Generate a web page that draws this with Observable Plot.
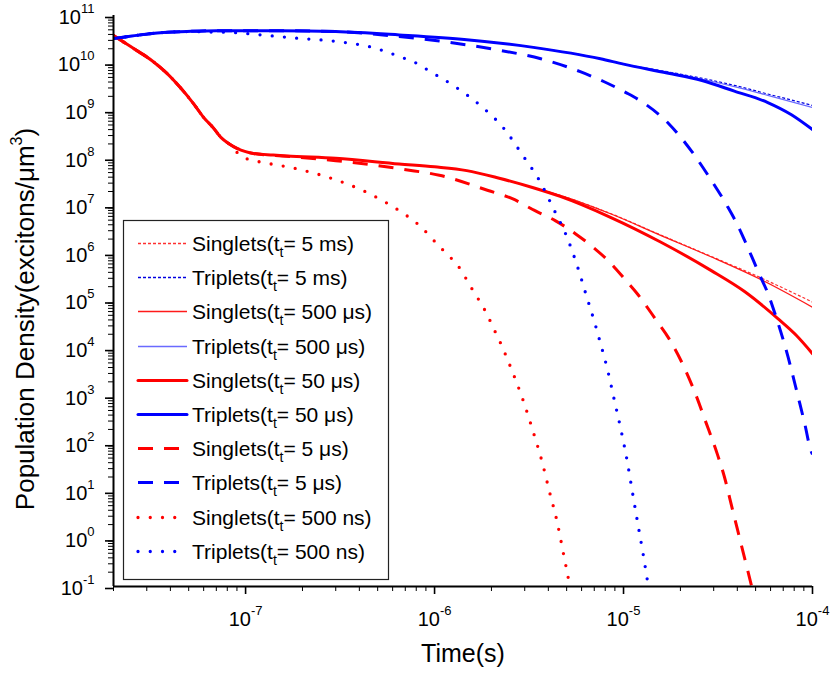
<!DOCTYPE html>
<html>
<head>
<meta charset="utf-8">
<script src="https://cdn.jsdelivr.net/npm/d3@7"></script>
<script src="https://cdn.jsdelivr.net/npm/@observablehq/plot@0.6"></script>
<style>
  body { margin: 0; background: #fff; }
  #chart { width: 833px; height: 681px; font-family: "Liberation Sans", Arial, sans-serif; }
</style>
</head>
<body>
<div id="chart"></div>
<script>
// ---------- data (time in s, density in excitons/µm³) ----------
// shared early part of all singlet curves
const tSingletEarly = [2e-8, 2.5e-8, 3.2e-8, 3.8e-8, 4.5e-8, 5.3e-8, 6.0e-8, 6.8e-8, 7.4e-8, 8.2e-8];
const vSingletEarly = [3.8e10, 2.14e10, 1.12e10, 6.3e9, 3.1e9, 1.41e9, 7.2e8, 4.2e8, 2.75e8, 2.0e8];
// shared early part of all triplet curves
const tTripletEarly = [2e-8, 2.5e-8, 3.2e-8, 4.9e-8];
const vTripletEarly = [3.3e10, 3.7e10, 4.2e10, 4.6e10];

// Singlets, t_t = 5 ms (thin dashed)
const tS5ms = [9.0e-8, 1.0e-7, 1.1e-7, 1.4e-7, 1.65e-7, 3e-7, 6.5e-7, 1e-6, 1.48e-6, 2.2e-6, 3.33e-6, 4.62e-6, 8.53e-6, 1.57e-5, 2.9e-5, 5.4e-5, 1e-4];
const vS5ms = [1.62e8, 1.38e8, 1.26e8, 1.17e8, 1.12e8, 1.0e8, 7.6e7, 6.6e7, 5.5e7, 3.8e7, 2.4e7, 1.66e7, 6.9e6, 2.45e6, 8.7e5, 3.0e5, 9.5e4];
// Singlets, t_t = 500 µs (thin solid)
const tS500us = [9.0e-8, 1.0e-7, 1.1e-7, 1.4e-7, 1.65e-7, 3e-7, 6.5e-7, 1e-6, 1.48e-6, 2.2e-6, 3.33e-6, 4.62e-6, 8.53e-6, 1.57e-5, 2.9e-5, 5.4e-5, 1e-4];
const vS500us = [1.62e8, 1.38e8, 1.26e8, 1.17e8, 1.12e8, 1.0e8, 7.6e7, 6.6e7, 5.5e7, 3.8e7, 2.4e7, 1.66e7, 6.8e6, 2.4e6, 8.5e5, 2.75e5, 7.4e4];
// Singlets, t_t = 50 µs (thick solid)
const tS50us = [9.0e-8, 1.0e-7, 1.1e-7, 1.4e-7, 1.65e-7, 3e-7, 6.5e-7, 1e-6, 1.48e-6, 2.2e-6, 3.33e-6, 4.62e-6, 8.53e-6, 1.57e-5, 2.9e-5, 4.37e-5, 6.58e-5, 8.2e-5, 1e-4];
const vS50us = [1.62e8, 1.38e8, 1.26e8, 1.17e8, 1.12e8, 1.0e8, 7.6e7, 6.6e7, 5.5e7, 3.8e7, 2.4e7, 1.58e7, 5.75e6, 1.74e6, 4.4e5, 1.58e5, 4.2e4, 1.9e4, 7.8e3];
// Singlets, t_t = 5 µs (thick dashed)
const tS5us = [9.0e-8, 1.0e-7, 1.1e-7, 1.65e-7, 3e-7, 7.06e-7, 1.06e-6, 1.92e-6, 2.58e-6, 3.4e-6, 4.35e-6, 5.56e-6, 6.9e-6, 8.53e-6, 1.01e-5, 1.2e-5, 1.48e-5, 1.74e-5, 2.09e-5, 2.44e-5, 2.7e-5, 3.13e-5, 3.42e-5, 3.78e-5, 4.1e-5, 4.55e-5, 4.8e-5];
const vS5us = [1.62e8, 1.38e8, 1.26e8, 1.1e8, 8.9e7, 5.75e7, 4.4e7, 2.1e7, 1.41e7, 7.9e6, 4.9e6, 2.6e6, 1.35e6, 6.3e5, 2.95e5, 1.32e5, 4.1e4, 1.62e4, 4.1e3, 955, 316, 62, 20, 4.0, 1.1, 0.21, 0.089];
// Singlets, t_t = 500 ns (dotted)
const tS500ns = [9.5e-8, 1.17e-7, 1.41e-7, 1.7e-7, 2.04e-7, 2.9e-7, 4.4e-7, 6.5e-7, 8.3e-7, 1.07e-6, 1.23e-6, 1.39e-6, 1.53e-6, 1.7e-6, 1.88e-6, 2.04e-6, 2.22e-6, 2.58e-6, 2.95e-6, 3.31e-6, 3.7e-6, 4.06e-6, 4.44e-6, 4.81e-6, 5.18e-6, 5.3e-6];
const vS500ns = [1.1e8, 8.5e7, 7.4e7, 6.5e7, 5.5e7, 3.7e7, 1.9e7, 7.9e6, 3.9e6, 1.35e6, 7.8e5, 4.3e5, 2.2e5, 1.12e5, 5.6e4, 2.8e4, 1.38e4, 3.3e3, 794, 190, 43, 9.7, 2.4, 0.49, 0.107, 0.063];

// Triplets, t_t = 5 ms (thin dashed)
const tT5ms = [7e-8, 1.5e-7, 3e-7, 6.5e-7, 1.48e-6, 3.33e-6, 7.55e-6, 1e-5, 1.7e-5, 3.86e-5, 5.8e-5, 1e-4];
const vT5ms = [4.8e10, 4.8e10, 4.6e10, 3.9e10, 3.1e10, 2.14e10, 1.23e10, 9.5e9, 6.6e9, 3.4e9, 2.24e9, 1.29e9];
// Triplets, t_t = 500 µs (thin solid)
const tT500us = [7e-8, 1.5e-7, 3e-7, 6.5e-7, 1.48e-6, 3.33e-6, 7.55e-6, 1e-5, 1.7e-5, 3.86e-5, 5.8e-5, 1e-4];
const vT500us = [4.8e10, 4.8e10, 4.6e10, 3.9e10, 3.1e10, 2.14e10, 1.23e10, 9.5e9, 6.5e9, 3.2e9, 2.1e9, 1.17e9];
// Triplets, t_t = 50 µs (thick solid)
const tT50us = [7e-8, 1.5e-7, 3e-7, 6.5e-7, 1.48e-6, 3.33e-6, 7.55e-6, 1e-5, 1.7e-5, 2.6e-5, 3.86e-5, 5.8e-5, 7.7e-5, 1e-4];
const vT50us = [4.8e10, 4.8e10, 4.6e10, 3.9e10, 3.1e10, 2.14e10, 1.23e10, 9.5e9, 6.2e9, 4.3e9, 2.57e9, 1.48e9, 8.3e8, 4.0e8];
// Triplets, t_t = 5 µs (thick dashed)
const tT5us = [7e-8, 1.5e-7, 3e-7, 6.5e-7, 1.06e-6, 2.06e-6, 3.65e-6, 5.9e-6, 7.85e-6, 1.03e-5, 1.26e-5, 1.74e-5, 2.29e-5, 2.88e-5, 3.56e-5, 3.98e-5, 4.4e-5, 5.18e-5, 5.86e-5, 6.3e-5, 7.43e-5, 8.4e-5, 9.1e-5, 9.8e-5, 1e-4];
const vT5us = [4.8e10, 4.8e10, 4.6e10, 3.6e10, 2.9e10, 1.95e10, 1.23e10, 6.6e9, 4.1e9, 2.4e9, 1.51e9, 5.25e8, 1.41e8, 3.7e7, 9.5e6, 4.2e6, 1.78e6, 4.0e5, 1.32e5, 5.75e4, 6.6e3, 955, 263, 72, 60];
// Triplets, t_t = 500 ns (dotted)
const tT500ns = [6.5e-8, 8.4e-8, 1.22e-7, 1.76e-7, 3.13e-7, 4.68e-7, 6.5e-7, 8.0e-7, 9.4e-7, 1.3e-6, 1.77e-6, 2.33e-6, 2.92e-6, 3.62e-6, 4.26e-6, 5.02e-6, 5.68e-6, 6.35e-6, 7.1e-6, 7.48e-6, 8.26e-6, 8.96e-6, 9.72e-6, 1.047e-5, 1.117e-5, 1.19e-5, 1.27e-5, 1.35e-5, 1.38e-5];
const vT500ns = [4.5e10, 4.4e10, 3.9e10, 3.4e10, 2.8e10, 2.14e10, 1.38e10, 1.0e10, 6.8e9, 3.1e9, 1.23e9, 4.2e8, 1.17e8, 3.2e7, 8.7e6, 2.2e6, 5.6e5, 1.32e5, 3.1e4, 1.48e4, 3.4e3, 794, 186, 42, 9.1, 2.1, 0.48, 0.107, 0.063];

// legend / series descriptors
const seriesKind   = ["Singlets", "Triplets", "Singlets", "Triplets", "Singlets", "Triplets", "Singlets", "Triplets", "Singlets", "Triplets"];
const seriesTt     = ["5 ms", "5 ms", "500 μs", "500 μs", "50 μs", "50 μs", "5 μs", "5 μs", "500 ns", "500 ns"];
const seriesColor  = ["#ff3030", "#0000e0", "#ff1a1a", "#6a6aff", "#ff0000", "#0000ff", "#ff0000", "#0000ff", "#ff0000", "#0000ff"];
const seriesWidth  = [1.2, 1.2, 1.2, 1.2, 3, 3, 3, 3, 3.3, 3.3];
const legendWidth  = [1.5, 1.5, 1.5, 1.5, 3, 3, 3, 3, 3.3, 3.3];
const seriesDash   = ["3 2", "3 2", null, null, null, null, "15 11", "15 11", "0 12.25", "0 12.25"];
const seriesCap    = ["butt", "butt", "butt", "butt", "round", "round", "butt", "butt", "round", "round"];

// axis ticks
const xMajor = [1e-7, 1e-6, 1e-5, 1e-4];
const yMajor = [1e-1, 1e0, 1e1, 1e2, 1e3, 1e4, 1e5, 1e6, 1e7, 1e8, 1e9, 1e10, 1e11];
const minorMultipliers = [2, 3, 4, 5, 6, 7, 8, 9];

// ---------- build table ----------
const seriesTimes = [
  [...tSingletEarly, ...tS5ms], [...tTripletEarly, ...tT5ms],
  [...tSingletEarly, ...tS500us], [...tTripletEarly, ...tT500us],
  [...tSingletEarly, ...tS50us], [...tTripletEarly, ...tT50us],
  [...tSingletEarly, ...tS5us], [...tTripletEarly, ...tT5us],
  [...tSingletEarly, ...tS500ns], [...tTripletEarly, ...tT500ns]
];
const seriesValues = [
  [...vSingletEarly, ...vS5ms], [...vTripletEarly, ...vT5ms],
  [...vSingletEarly, ...vS500us], [...vTripletEarly, ...vT500us],
  [...vSingletEarly, ...vS50us], [...vTripletEarly, ...vT50us],
  [...vSingletEarly, ...vS5us], [...vTripletEarly, ...vT5us],
  [...vSingletEarly, ...vS500ns], [...vTripletEarly, ...vT500ns]
];

const xMinor = [];
[1e-8, 1e-7, 1e-6, 1e-5].forEach(d => minorMultipliers.forEach(m => xMinor.push(m * d)));
const yMinor = [];
yMajor.slice(0, -1).forEach(d => minorMultipliers.forEach(m => yMinor.push(m * d)));

const expOf = v => Math.round(Math.log10(v));
const lineMarks = seriesTimes.map((ts, i) => Plot.line(
  ts.map((t, j) => ({t, v: seriesValues[i][j]})),
  {x: "t", y: "v", stroke: seriesColor[i], strokeWidth: seriesWidth[i],
   strokeDasharray: seriesDash[i] || undefined, strokeLinecap: seriesCap[i],
   strokeLinejoin: "round", curve: "monotone-x", clip: true}
));

const fontFam = '"Liberation Sans", Arial, sans-serif';
const yTitle = "Population Density(excitons/μm3)";
const plot = Plot.plot({
  width: 833, height: 681,
  marginLeft: 113, marginRight: 21, marginTop: 15, marginBottom: 95,
  x: {type: "log", domain: [2e-8, 1e-4]},
  y: {type: "log", domain: [0.1, 1e11]},
  style: {fontFamily: fontFam, fontSize: "20px", background: "white", color: "black", overflow: "visible"},
  marks: [
    ...lineMarks,
    Plot.axisY(yMinor, {tickSize: 5, tickFormat: () => "", strokeWidth: 1, label: null}),
    Plot.axisY(yMajor, {tickSize: 8, tickPadding: 11, strokeWidth: 1.6, fontSize: 20, dy: 2,
                        tickFormat: d => "10^" + expOf(d), label: null}),
    Plot.axisX(xMinor, {tickSize: 5, tickFormat: () => "", strokeWidth: 1, label: null}),
    Plot.axisX(xMajor, {tickSize: 8, tickPadding: 17, strokeWidth: 1.6, fontSize: 20,
                        tickFormat: d => "10^" + expOf(d), label: null}),
    Plot.ruleX([2e-8], {strokeWidth: 2}),
    Plot.ruleY([0.1], {strokeWidth: 2}),
    Plot.text(["Time(s)"], {frameAnchor: "bottom", dy: 75, fontSize: 25, textAnchor: "middle"}),
    Plot.text([yTitle], {frameAnchor: "left", dx: -88, dy: 18, rotate: -90, fontSize: 26, textAnchor: "middle"})
  ]
});
document.getElementById("chart").appendChild(plot);

const svg = d3.select(plot);
// superscript exponents in tick labels and the y title
svg.selectAll("text").each(function() {
  const el = d3.select(this);
  const s = this.textContent;
  const m = /^10\^(-?\d+)$/.exec(s);
  if (m) {
    el.text("");
    el.append("tspan").text("10");
    el.append("tspan").attr("dy", -11).attr("font-size", 13).text(m[1]);
  } else if (s === yTitle) {
    el.text("");
    el.append("tspan").text("Population Density(excitons/μm");
    el.append("tspan").attr("dy", -12).attr("font-size", 16).text("3");
    el.append("tspan").attr("dy", 12).text(")");
  }
});

// legend (drawn inside the plot's SVG, from the series descriptors)
const lg = svg.append("g").attr("font-family", fontFam).attr("font-size", 21).attr("text-anchor", "start");
const box = {x: 123.5, y: 220.5, w: 265, h: 359};
lg.append("rect").attr("x", box.x).attr("y", box.y).attr("width", box.w).attr("height", box.h)
  .attr("fill", "white").attr("stroke", "#222").attr("stroke-width", 1.2);
seriesKind.forEach((kind, i) => {
  const yRow = Math.round(243 + i * 34.2) + 0.5;
  lg.append("line").attr("x1", 138).attr("x2", 187).attr("y1", yRow).attr("y2", yRow)
    .attr("stroke", seriesColor[i]).attr("stroke-width", legendWidth[i])
    .attr("stroke-dasharray", seriesDash[i]).attr("stroke-linecap", seriesCap[i]);
  const tx = lg.append("text").attr("x", 192).attr("y", yRow + 7.5).attr("fill", "black")
    .attr("text-anchor", "start");
  tx.append("tspan").text(kind + "(t");
  tx.append("tspan").attr("dy", 6).attr("font-size", 14).text("t");
  tx.append("tspan").attr("dy", -6).text("= " + seriesTt[i] + ")");
});
</script>
</body>
</html>
